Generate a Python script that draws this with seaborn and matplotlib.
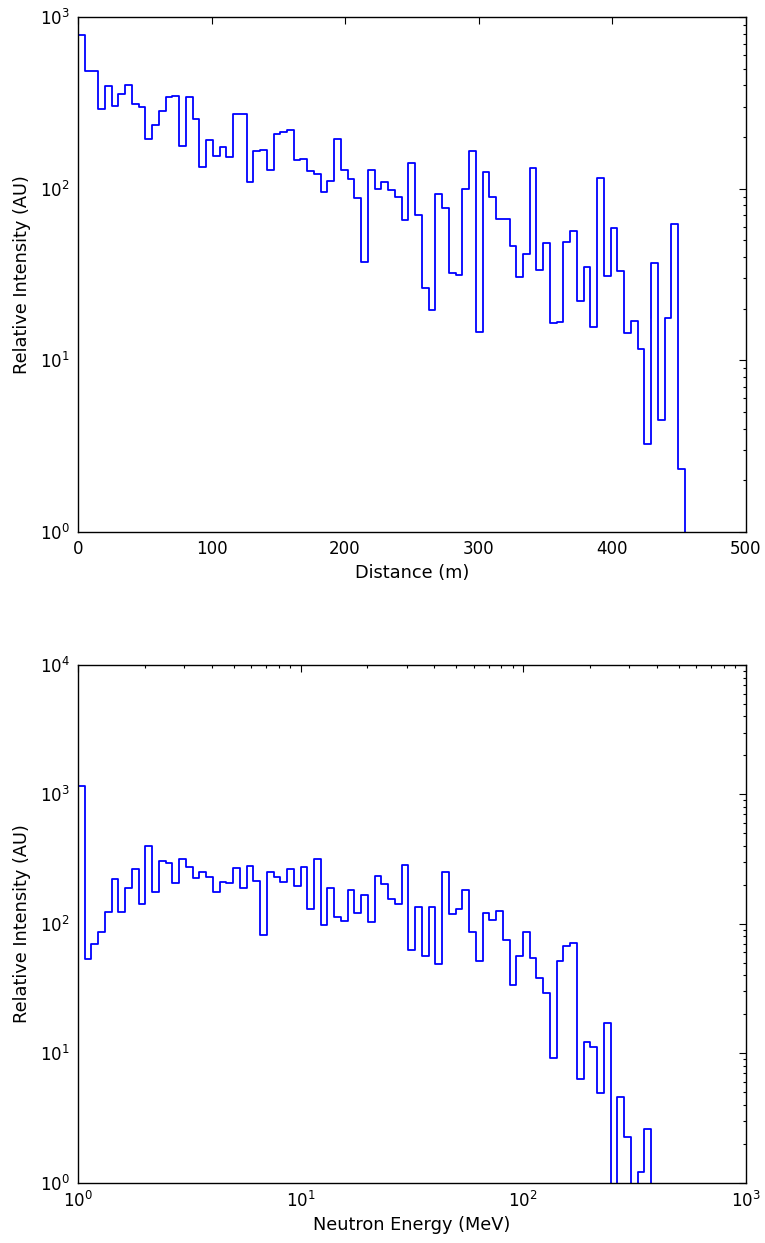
import numpy as np
import pandas as pd
import matplotlib
matplotlib.use("Agg")
import matplotlib.pyplot as plt
import seaborn as sns
from matplotlib.ticker import LogLocator, FixedLocator, NullLocator

# ---------------- data ----------------
# Distance histogram: 99 equal bins between 0 and 500 m (only the first 90 are non-empty)
distance_edges = np.linspace(0, 500, 100)
distance_counts = [
    785, 484, 484, 292, 396, 303, 357, 400, 310, 299,
    195, 235, 285, 341, 347, 177, 342, 256, 134, 191,
    154, 175, 152, 272, 272, 110, 165, 168, 128, 207,
    215, 219, 146, 148, 127, 121, 95, 111, 195, 128,
    114, 88.7, 37.6, 128, 100, 109, 98, 90, 66, 141,
    70, 26.5, 19.6, 92.7, 76.9, 32.2, 31.3, 99, 165, 14.6,
    125, 89.4, 66.8, 66.8, 46.3, 30.5, 41.8, 132, 33.6, 48.4,
    16.6, 16.8, 49.1, 56.9, 22.3, 35.1, 15.6, 116, 31.0, 59.3,
    33.0, 14.5, 17.0, 11.7, 3.27, 36.7, 4.49, 17.6, 62.5, 2.34,
]

# Neutron energy histogram: 99 log-spaced bins between 1 and 1000 MeV
energy_edges = np.logspace(0, 3, 100)
energy_counts = [
    1165, 53.4, 69.3, 85.9, 123, 220, 124, 190, 266, 143,
    398, 177, 305, 297, 207, 314, 276, 224, 251, 231,
    175, 209, 205, 271, 190, 279, 215, 82, 252, 231,
    209, 265, 197, 273, 129, 314, 97.7, 188, 113, 105,
    181, 122, 166, 104, 234, 202, 154, 141, 286, 62.6,
    135, 56.6, 134, 48.8, 250, 120, 131, 182, 85.9, 51.5,
    121, 107, 125, 74.8, 33.4, 56.3, 86.8, 54.6, 38.3, 29.0,
    9.22, 51.8, 66.9, 70.5, 6.31, 12.2, 11.1, 4.89, 17.0, 0,
    4.60, 2.25, 0, 1.21, 2.60,
]

top_xlabel = "Distance (m)"
bottom_xlabel = "Neutron Energy (MeV)"
ylabel = "Relative Intensity (AU)"
top_xticks = [0, 100, 200, 300, 400, 500]

# ---------------- style ----------------
sns.set_theme(style="white")
plt.rcParams.update({
    "font.family": ["DejaVu Sans"],
    "font.size": 12,
    "text.color": "black",
    "axes.labelcolor": "black",
    "axes.edgecolor": "black",
    "axes.linewidth": 1.0,
    "xtick.direction": "in",
    "ytick.direction": "in",
    "xtick.top": True,
    "ytick.right": True,
    "xtick.major.size": 5,
    "ytick.major.size": 5,
    "xtick.minor.size": 2.5,
    "ytick.minor.size": 2.5,
    "xtick.major.width": 0.8,
    "ytick.major.width": 0.8,
    "xtick.minor.width": 0.8,
    "ytick.minor.width": 0.8,
    "xtick.color": "black",
    "ytick.color": "black",
    "xtick.labelcolor": "black",
    "ytick.labelcolor": "black",
    "xtick.labelsize": 12,
    "ytick.labelsize": 12,
    "axes.labelsize": 12.8,
    "xtick.major.pad": 6,
    "ytick.major.pad": 6,
})

fig = plt.figure(figsize=(7.65, 12.43), dpi=100)
left, width = 78 / 765, (745.5 - 78) / 765
ax1 = fig.add_axes([left, 1 - 532 / 1243, width, (532 - 17) / 1243])
ax2 = fig.add_axes([left, 1 - 1182.5 / 1243, width, (1182.5 - 665) / 1243])

line_kws = dict(element="step", fill=False, color="#0000ff", linewidth=1.3)

# top histogram
d_centers = 0.5 * (distance_edges[:-1] + distance_edges[1:])[: len(distance_counts)]
df_d = pd.DataFrame({"distance": d_centers, "count": distance_counts})
sns.histplot(data=df_d, x="distance", weights="count", bins=list(distance_edges), ax=ax1, **line_kws)
ax1.set_yscale("log")
ax1.set_xlim(0, 500)
ax1.set_ylim(1, 1000)
ax1.xaxis.set_major_locator(FixedLocator(top_xticks))
ax1.xaxis.set_minor_locator(NullLocator())
ax1.yaxis.set_major_locator(LogLocator(base=10))
ax1.yaxis.set_minor_locator(LogLocator(base=10, subs=np.arange(2, 10)))
ax1.set_xlabel(top_xlabel)
ax1.set_ylabel(ylabel, labelpad=6)

# bottom histogram
e_centers = np.sqrt(energy_edges[:-1] * energy_edges[1:])[: len(energy_counts)]
df_e = pd.DataFrame({"energy": e_centers, "count": energy_counts})
sns.histplot(data=df_e, x="energy", weights="count", bins=list(energy_edges), ax=ax2, **line_kws)
ax2.set_xscale("log")
ax2.set_yscale("log")
ax2.set_xlim(1, 1000)
ax2.set_ylim(1, 10000)
ax2.xaxis.set_major_locator(LogLocator(base=10))
ax2.xaxis.set_minor_locator(LogLocator(base=10, subs=np.arange(2, 10)))
ax2.yaxis.set_major_locator(LogLocator(base=10))
ax2.yaxis.set_minor_locator(LogLocator(base=10, subs=np.arange(2, 10)))
ax2.set_xlabel(bottom_xlabel)
ax2.set_ylabel(ylabel, labelpad=6)

for ax in (ax1, ax2):
    ax.grid(False)
    for s in ax.spines.values():
        s.set_visible(True)
        s.set_color("black")

fig.savefig("out.png", dpi=100, facecolor="white")
